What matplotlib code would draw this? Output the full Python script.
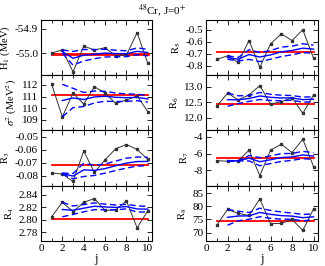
import matplotlib
matplotlib.use("Agg")
import matplotlib.pyplot as plt
from matplotlib.ticker import MultipleLocator

plt.rcParams['font.family'] = ['Liberation Serif', 'DejaVu Serif']
plt.rcParams['mathtext.fontset'] = 'stix'

j = [1, 2, 3, 4, 5, 6, 7, 8, 9, 10]
j_avg = [2, 3, 4, 5, 6, 7, 8, 9, 10]

# H1 (MeV)
h1 = [-55.000, -54.987, -55.078, -54.971, -54.987, -54.978, -55.012, -55.008, -54.915, -55.043]
h1_mean = [-54.9935, -55.0217, -55.009, -55.0046, -55.0002, -55.0019, -55.0026, -54.9929, -54.9979]
h1_up = [-54.987, -54.9933, -54.9852, -54.9857, -54.9841, -54.9882, -54.9907, -54.9786, -54.9842]
h1_lo = [-55.000, -55.0501, -55.0328, -55.0235, -55.0163, -55.0156, -55.0145, -55.0072, -55.0116]
h1_ref = -55.005

# sigma^2 (MeV^2)
s2 = [112.06, 109.24, 111.30, 110.35, 111.85, 111.30, 110.40, 110.70, 111.05, 109.68]
s2_mean = [110.65, 110.87, 110.74, 110.96, 111.02, 110.93, 110.90, 110.92, 110.79]
s2_up = [112.06, 111.71, 111.35, 111.48, 111.45, 111.30, 111.23, 111.20, 111.08]
s2_lo = [109.24, 110.03, 110.13, 110.44, 110.59, 110.56, 110.58, 110.63, 110.51]
s2_ref = 111.1

# R3
r3 = [-0.0779, -0.0787, -0.0844, -0.0610, -0.0775, -0.0677, -0.0592, -0.0560, -0.0598, -0.0675]
r3_mean = [-0.0783, -0.0803, -0.0755, -0.0759, -0.0745, -0.0723, -0.0703, -0.0691, -0.0690]
r3_up = [-0.0779, -0.0783, -0.0705, -0.0720, -0.0710, -0.0687, -0.0665, -0.0656, -0.0658]
r3_lo = [-0.0787, -0.0824, -0.0806, -0.0798, -0.0780, -0.0760, -0.0741, -0.0726, -0.0722]
r3_ref = -0.0715

# R4
r4 = [2.8048, 2.828, 2.813, 2.828, 2.834, 2.815, 2.816, 2.830, 2.787, 2.8145]
r4_mean = [2.8164, 2.8153, 2.8185, 2.8216, 2.8205, 2.8198, 2.8211, 2.8173, 2.8170]
r4_up = [2.828, 2.8221, 2.8243, 2.8270, 2.8251, 2.8237, 2.8247, 2.8223, 2.8214]
r4_lo = [2.8048, 2.8085, 2.8127, 2.8162, 2.8159, 2.8159, 2.8175, 2.8123, 2.8126]
r4_ref = 2.802

# R5
r5 = [-0.745, -0.717, -0.770, -0.588, -0.812, -0.616, -0.532, -0.588, -0.498, -0.736]
r5_mean = [-0.731, -0.744, -0.705, -0.726, -0.708, -0.683, -0.671, -0.652, -0.660]
r5_up = [-0.717, -0.729, -0.665, -0.688, -0.672, -0.643, -0.635, -0.615, -0.626]
r5_lo = [-0.745, -0.759, -0.746, -0.764, -0.744, -0.722, -0.707, -0.689, -0.694]
r5_ref = -0.686

# R6
r6 = [12.37, 12.80, 12.58, 12.74, 13.04, 12.44, 12.52, 12.65, 12.14, 12.74]
r6_mean = [12.585, 12.583, 12.623, 12.706, 12.662, 12.641, 12.643, 12.587, 12.602]
r6_up = [12.80, 12.71, 12.72, 12.82, 12.76, 12.73, 12.72, 12.67, 12.68]
r6_lo = [12.37, 12.46, 12.53, 12.59, 12.56, 12.55, 12.57, 12.50, 12.52]
r6_ref = 12.43

# R7
r7 = [-6.84, -6.92, -6.84, -5.60, -8.63, -5.60, -4.88, -5.88, -4.29, -7.55]
r7_mean = [-6.88, -6.867, -6.55, -6.966, -6.738, -6.473, -6.399, -6.164, -6.303]
r7_up = [-6.84, -6.847, -6.233, -6.483, -6.282, -6.005, -5.987, -5.732, -5.892]
r7_lo = [-6.92, -6.887, -6.867, -7.449, -7.194, -6.941, -6.811, -6.596, -6.714]
r7_ref = -6.5

# R8
r8 = [72.8, 78.8, 77.3, 76.5, 82.8, 73.4, 73.5, 75.0, 70.8, 79.0]
r8_mean = [75.8, 76.3, 76.35, 77.64, 76.93, 76.44, 76.26, 75.66, 75.99]
r8_up = [78.8, 78.1, 77.63, 79.26, 78.43, 77.8, 77.45, 76.87, 77.13]
r8_lo = [72.8, 74.5, 75.07, 76.02, 75.43, 75.08, 75.07, 74.45, 74.85]
r8_ref = 74.5

left_panels = [
    (h1, h1_mean, h1_up, h1_lo, h1_ref, r'H$_1$ (MeV)', (-55.092, -54.8625), [-55.0, -54.9], ['-55.0', '-54.9']),
    (s2, s2_mean, s2_up, s2_lo, s2_ref, r'$\sigma^2$ (MeV$^2$)', (108.05, 112.85), [109, 110, 111, 112], ['109', '110', '111', '112']),
    (r3, r3_mean, r3_up, r3_lo, r3_ref, r'R$_3$', (-0.0877, -0.0452), [-0.08, -0.07, -0.06, -0.05], ['-0.08', '-0.07', '-0.06', '-0.05']),
    (r4, r4_mean, r4_up, r4_lo, r4_ref, r'R$_4$', (2.766, 2.8545), [2.78, 2.80, 2.82, 2.84], ['2.78', '2.80', '2.82', '2.84']),
]
right_panels = [
    (r5, r5_mean, r5_up, r5_lo, r5_ref, r'R$_5$', (-0.878, -0.416), [-0.8, -0.7, -0.6, -0.5], ['-0.8', '-0.7', '-0.6', '-0.5']),
    (r6, r6_mean, r6_up, r6_lo, r6_ref, r'R$_6$', (11.585, 13.38), [12.0, 12.5, 13.0], ['12.0', '12.5', '13.0']),
    (r7, r7_mean, r7_up, r7_lo, r7_ref, r'R$_7$', (-9.83, -3.25), [-8, -6, -4], ['-8', '-6', '-4']),
    (r8, r8_mean, r8_up, r8_lo, r8_ref, r'R$_8$', (66.8, 87.8), [70, 75, 80, 85], ['70', '75', '80', '85']),
]

fig = plt.figure(figsize=(3.25, 2.66), dpi=100)

top, bottom = 0.925, 0.094
h = (top - bottom) / 4
cols = [(0.126, 0.468), (0.634, 0.978)]

for col, panels in zip(cols, [left_panels, right_panels]):
    for k, (vals, mean, up, lo, ref, label, ylim, yt, ytl) in enumerate(panels):
        ax = fig.add_axes([col[0], top - (k + 1) * h, col[1] - col[0], h])
        ax.plot(j, vals, color='#333333', lw=0.7, marker='s', ms=2.0, zorder=3)
        red_lw = 2.0 if k == 0 and col[0] < 0.5 else 1.3
        ax.plot([1, 10], [ref, ref], color='red', lw=red_lw, zorder=2)
        ax.plot(j_avg, mean, color='blue', lw=1.0, zorder=4)
        ax.plot(j_avg, up, color='blue', lw=1.0, ls=(0, (4.5, 2.5)), zorder=4)
        ax.plot(j_avg, lo, color='blue', lw=1.0, ls=(0, (4.5, 2.5)), zorder=4)
        ax.set_xlim(0, 10.4)
        ax.set_ylim(*ylim)
        ax.set_yticks(yt)
        ax.set_yticklabels(ytl)
        ax.xaxis.set_major_locator(MultipleLocator(2))
        ax.xaxis.set_minor_locator(MultipleLocator(1))
        ax.tick_params(which='both', direction='in', top=True, right=True,
                       labelsize=8, pad=2)
        ax.tick_params(which='major', length=3.5, width=0.6)
        ax.tick_params(which='minor', length=2, width=0.6)
        for s in ax.spines.values():
            s.set_linewidth(0.8)
        ax.set_ylabel(label, fontsize=7.6, labelpad=2)
        if k < 3:
            ax.set_xticklabels([])
        else:
            ax.set_xlabel('j', fontsize=9, labelpad=0)

fig.text(0.5, 0.99, r'$^{48}$Cr, J=0$^{+}$', ha='center', va='top', fontsize=8)

fig.savefig('out.png', dpi=100)
